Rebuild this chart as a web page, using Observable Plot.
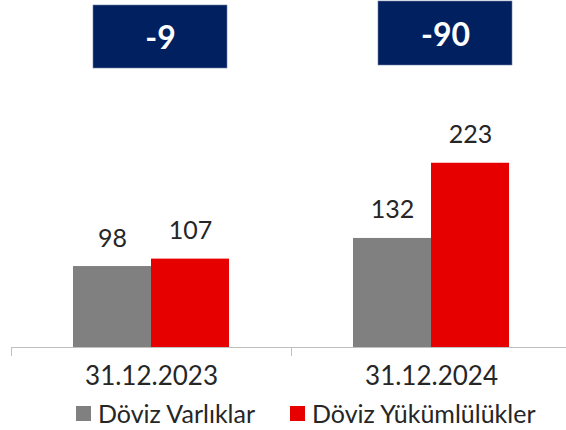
<!DOCTYPE html>
<html>
<head>
<meta charset="utf-8">
<script src="https://cdn.jsdelivr.net/npm/d3@7"></script>
<script src="https://cdn.jsdelivr.net/npm/@observablehq/plot@0.6"></script>
<style>
  body { margin: 0; background: #fff; font-family: Lato, sans-serif; }
  #wrap { position: relative; width: 566px; height: 430px; }
  .legend { position: absolute; top: 398px; left: 0; width: 566px; height: 32px; font-family: Lato, sans-serif; font-size: 25px; color: #262626; }
  .item { position: absolute; top: 0; display: flex; align-items: center; white-space: nowrap; }
  .sw { width: 15px; height: 15px; display: inline-block; margin-right: 7px; }
</style>
</head>
<body>
<div id="wrap"></div>
<script>
// ---- data ----
const categories = ["31.12.2023", "31.12.2024"];
const seriesNames = ["Döviz Varlıklar", "Döviz Yükümlülükler"];
const assetValues = [98, 132];
const liabilityValues = [107, 223];
const differences = [-9, -90];

// ---- styles ----
const colors = ["#808080", "#e60000"];
const navy = "#002060";
const textColor = "#262626";
const boxDx = [9, 14];
const boxTop = [5, 1];
const boxH = [63, 64];
const boxW = 134;

const assets = categories.map((c, i) => ({date: c, value: assetValues[i]}));
const liabs = categories.map((c, i) => ({date: c, value: liabilityValues[i]}));
const diffs = categories.map((c, i) => ({date: c, value: differences[i]}));

const W = 566, H = 400, band = 280, baseline = 347;

const boxMarks = diffs.flatMap((d, i) => [
  Plot.cell([d], {
    x: "date", fill: navy, stroke: "#6f7fa6", strokeWidth: 0.6,
    insetLeft: band / 2 + boxDx[i] - boxW / 2,
    insetRight: band / 2 - boxDx[i] - boxW / 2,
    insetTop: boxTop[i],
    insetBottom: baseline - boxTop[i] - boxH[i]
  }),
  Plot.text([d], {
    x: "date", text: v => String(v.value), frameAnchor: "top",
    dx: boxDx[i], dy: boxTop[i] + boxH[i] / 2 + 2,
    fill: "#ffffff", fontWeight: "bold", fontSize: 32, lineAnchor: "middle"
  })
]);

const chart = Plot.plot({
  width: W,
  height: H,
  marginLeft: 11,
  marginRight: 0,
  marginTop: 0,
  marginBottom: H - baseline,
  style: {fontFamily: "Lato, sans-serif", background: "transparent"},
  x: {domain: categories, range: [11, 11 + 2 * band], padding: 0, round: false, label: null},
  y: {domain: [0, 420], axis: null, label: null},
  marks: [
    Plot.barY(assets, {x: "date", y: "value", fill: colors[0], insetLeft: 62, insetRight: 140}),
    Plot.barY(liabs, {x: "date", y: "value", fill: colors[1], insetLeft: 140, insetRight: 62}),
    Plot.ruleY([0], {stroke: "#bfbfbf", strokeWidth: 1}),
    Plot.axisX({tickSize: 9, tickFormat: () => "", dx: -band / 2, stroke: "#bfbfbf", label: null}),
    Plot.axisX({tickSize: 0, tickPadding: 19, fontSize: 26, color: textColor, label: null}),
    Plot.text(assets, {x: "date", y: "value", text: d => String(d.value), dx: -39, dy: -20, lineAnchor: "bottom", fontSize: 25, fill: textColor}),
    Plot.text(liabs, {x: "date", y: "value", text: d => String(d.value), dx: 39, dy: -20, lineAnchor: "bottom", fontSize: 25, fill: textColor}),
    ...boxMarks
  ]
});

const wrap = document.getElementById("wrap");
wrap.appendChild(chart);

const legend = document.createElement("div");
legend.className = "legend";
const legendLeft = [76, 290];
seriesNames.forEach((name, i) => {
  const item = document.createElement("div");
  item.className = "item";
  item.style.left = legendLeft[i] + "px";
  const sw = document.createElement("span");
  sw.className = "sw";
  sw.style.background = colors[i];
  const t = document.createElement("span");
  t.textContent = name;
  item.appendChild(sw);
  item.appendChild(t);
  legend.appendChild(item);
});
wrap.appendChild(legend);
</script>
</body>
</html>
